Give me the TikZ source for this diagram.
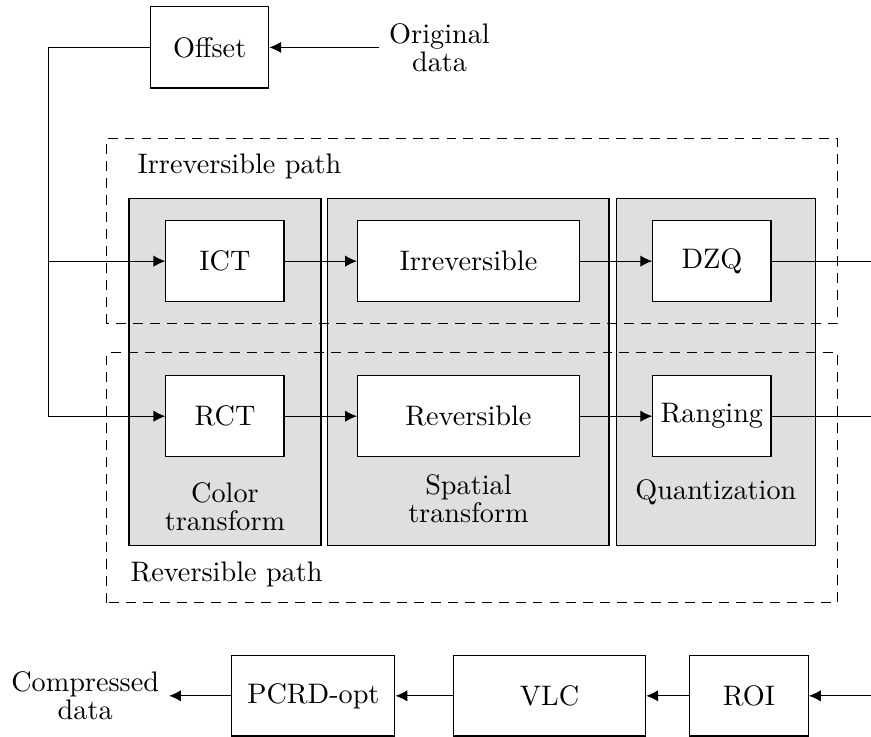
\documentclass[tikz,border=0pt]{standalone}
\usepackage{amsmath}
\usepackage{tikz}
\usetikzlibrary{arrows.meta}

\begin{document}
\begin{tikzpicture}
        \useasboundingbox (0,0) rectangle (10.84,9.17);
        \begin{scope}[every node/.style={draw, fill=gray!25, minimum height=4.31cm, inner sep=0}]
                \node (Col) at (2.80,4.54) [minimum width=2.39cm] {};
                \node (Spa) at (5.83,4.54) [minimum width=3.50cm] {};
                \node (Qua) at (8.91,4.54) [minimum width=2.48cm] {};
        \end{scope}
        \begin{scope}[every node/.style={align=center}]
                \node (ColT) at (2.80,2.86) {Color\\[-2pt]transform};
                \node (SpaT) at (5.83,2.96) {Spatial\\[-2pt]transform};
                \node (QuaT) at (8.91,3.04) {Quantization};
                \node (Orig) at (5.47,8.58) {Original\\[-2pt]data};
                \node (Comp) at (1.06,0.51) {Compressed\\[-2pt]data};
                \node [anchor=west] (IrrP) at (1.59,7.10) {Irreversible path};
                \node [anchor=west] (RevP) at (1.50,2.02) {Reversible path};
        \end{scope}
        \draw[dashed, dash pattern=on 3.5pt off 2.5pt] (1.33,5.14) rectangle (10.42,7.45);
        \draw[dashed, dash pattern=on 3.5pt off 2.5pt] (1.33,1.67) rectangle (10.42,4.78);
        \begin{scope}[every node/.style={draw, fill=white, minimum height=1.01cm, inner sep=0}]
                \node (Off) at (2.61,8.58) [minimum width=1.47cm] {Offset};
                \node (ICT) at (2.80,5.92) [minimum width=1.47cm] {ICT};
                \node (Irr) at (5.83,5.92) [minimum width=2.76cm] {Irreversible};
                \node (DZQ) at (8.86,5.92) [minimum width=1.47cm] {DZQ};
                \node (RCT) at (2.80,3.99) [minimum width=1.47cm] {RCT};
                \node (Rev) at (5.83,3.99) [minimum width=2.76cm] {Reversible};
                \node (Rng) at (8.86,3.99) [minimum width=1.47cm] {Ranging};
                \node (PCRD) at (3.90,0.51) [minimum width=2.03cm, minimum height=1.0cm] {PCRD-opt};
                \node (VLC) at (6.84,0.51) [minimum width=2.39cm, minimum height=1.0cm] {VLC};
                \node (ROI) at (9.32,0.51) [minimum width=1.48cm, minimum height=1.0cm] {ROI};
        \end{scope}
        \coordinate (split) at (0.60,5.92);
        \coordinate (DZQout) at (10.84,5.92);
        \coordinate (Rngout) at (10.84,3.99);
        \coordinate (ROIin) at (10.84,0.51);
        \draw (Off.west) -| (split);
        \draw (DZQ) -- (DZQout);
        \draw (Rng) -- (Rngout);
        \begin{scope}[every path/.style={->, >={Latex[length=4.2pt,width=4pt]}}]
                \path (Orig) edge (Off);
                \path (split) edge (ICT);
                \draw (split) |- (RCT);
                \path (ICT) edge (Irr);
                \path (Irr) edge (DZQ);
                \path (RCT) edge (Rev);
                \path (Rev) edge (Rng);
                \path (ROIin) edge (ROI);
                \path (ROI) edge (VLC);
                \path (VLC) edge (PCRD);
                \path (PCRD) edge (Comp);
        \end{scope}
\end{tikzpicture}
\end{document}
